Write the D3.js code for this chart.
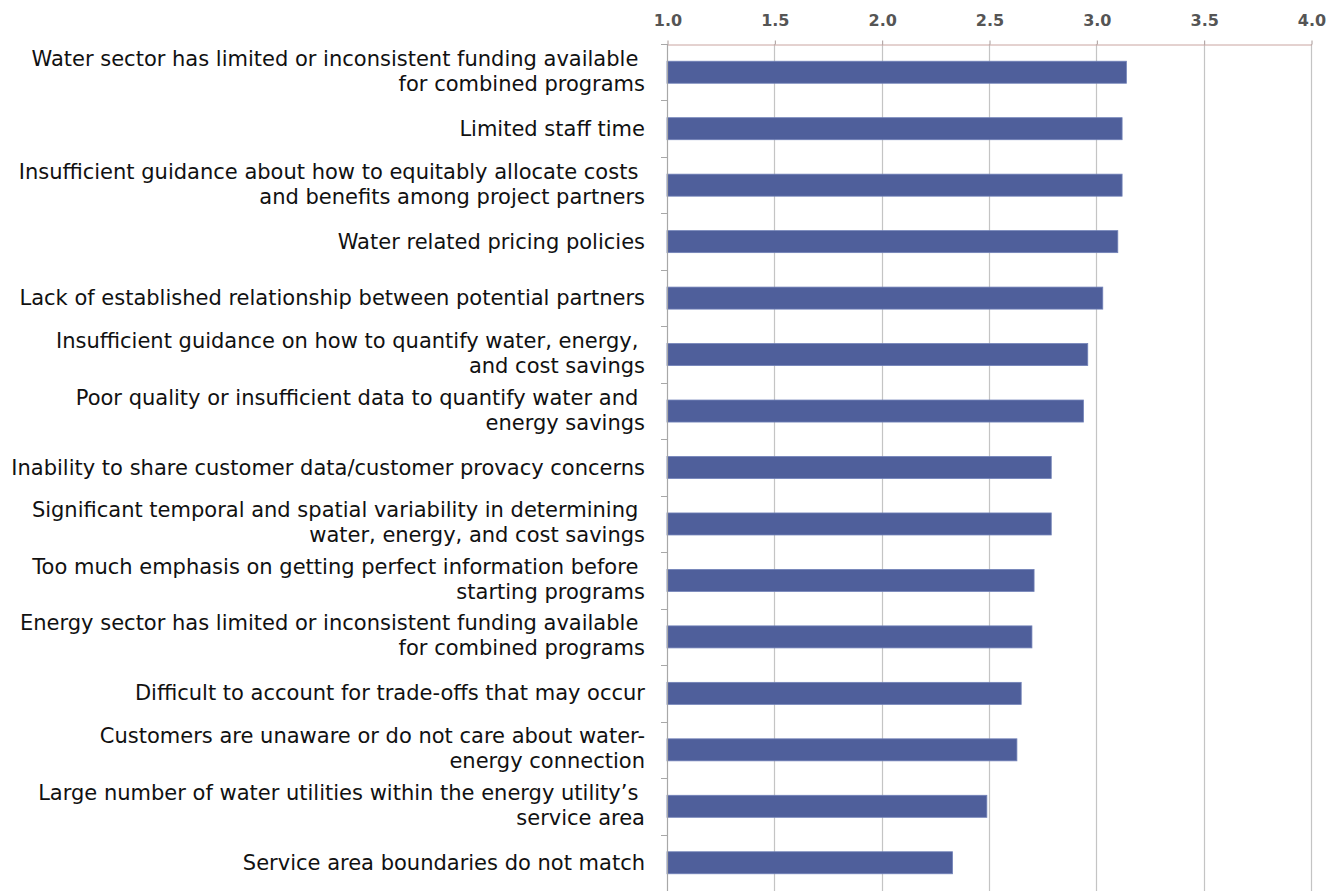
<!DOCTYPE html>
<html>
<head>
<meta charset="utf-8">
<script src="https://cdn.jsdelivr.net/npm/d3@7"></script>
<style>
  body { margin: 0; background: #fff; }
  svg { display: block; }
</style>
</head>
<body>
<script>
let width = 1342;
let height = 891;

// barriers, top to bottom (line breaks as in the original labels)
const categories = [
  'Water sector has limited or inconsistent funding available \nfor combined programs',
  'Limited staff time',
  'Insufficient guidance about how to equitably allocate costs \nand benefits among project partners',
  'Water related pricing policies',
  'Lack of established relationship between potential partners',
  'Insufficient guidance on how to quantify water, energy, \nand cost savings',
  'Poor quality or insufficient data to quantify water and \nenergy savings',
  'Inability to share customer data/customer provacy concerns',
  'Significant temporal and spatial variability in determining \nwater, energy, and cost savings',
  'Too much emphasis on getting perfect information before \nstarting programs',
  'Energy sector has limited or inconsistent funding available \nfor combined programs',
  'Difficult to account for trade-offs that may occur',
  'Customers are unaware or do not care about water-\nenergy connection',
  'Large number of water utilities within the energy utility\u2019s \nservice area',
  'Service area boundaries do not match'
];

const values = [3.14, 3.12, 3.12, 3.10, 3.03, 2.96, 2.94, 2.79, 2.79, 2.71, 2.70, 2.65, 2.63, 2.49, 2.33];

const xTicks = [1.0, 1.5, 2.0, 2.5, 3.0, 3.5, 4.0];

let svg = d3.select('body')
  .append('svg')
  .attr('width', width)
  .attr('height', height);

let x = d3.scaleLinear()
  .domain([1, 4])
  .range([667, 1311]);

let y = d3.scaleBand()
  .domain(categories)
  .range([44, 891])
  .paddingInner(0.61)
  .paddingOuter(0.305);

// vertical gridlines
svg.append('g')
  .selectAll('line')
  .data(xTicks.slice(1))
  .join('line')
  .attr('x1', d => Math.round(x(d)) + 0.5)
  .attr('x2', d => Math.round(x(d)) + 0.5)
  .attr('y1', 44)
  .attr('y2', height)
  .attr('stroke', '#c4c4c4')
  .attr('stroke-width', 1.2);

// top axis
let xAxis = svg.append('g')
  .attr('transform', 'translate(0.5,44.5)')
  .call(d3.axisTop(x)
    .tickValues(xTicks)
    .tickFormat(d3.format('.1f'))
    .tickSize(4)
    .tickSizeOuter(0)
    .tickPadding(15));

xAxis.select('.domain').attr('stroke', '#c9a4a0');
xAxis.selectAll('.tick line').attr('stroke', '#a89a98');
xAxis.selectAll('.tick text')
  .attr('font-family', 'DejaVu Sans')
  .attr('font-size', 16)
  .attr('font-weight', 'bold')
  .attr('fill', '#555');

// bars
svg.append('g')
  .selectAll('rect')
  .data(values)
  .join('rect')
  .attr('x', x(1))
  .attr('y', (d, i) => y(categories[i]))
  .attr('width', d => x(d) - x(1))
  .attr('height', y.bandwidth())
  .attr('fill', '#4f5f9b')
  .attr('stroke', '#7282b8')
  .attr('stroke-width', 0.8);

// left axis with ticks between categories
let step = y.step();
let bounds = d3.range(categories.length + 1).map(i => 44 + i * step);

svg.append('line')
  .attr('x1', x(1) + 0.5)
  .attr('x2', x(1) + 0.5)
  .attr('y1', 44)
  .attr('y2', height)
  .attr('stroke', '#a8a8a8')
  .attr('stroke-width', 1.2);

svg.append('g')
  .selectAll('line')
  .data(bounds)
  .join('line')
  .attr('x1', x(1) - 6)
  .attr('x2', x(1))
  .attr('y1', d => Math.round(d) + 0.5)
  .attr('y2', d => Math.round(d) + 0.5)
  .attr('stroke', '#a8a8a8');

// category labels
let labels = svg.append('g')
  .selectAll('text')
  .data(categories)
  .join('text')
  .attr('text-anchor', 'end')
  .attr('font-family', 'DejaVu Sans')
  .attr('font-size', 21)
  .attr('fill', '#111')
  .style('white-space', 'pre');

labels.each(function (d) {
  let lines = d.split('\n');
  let cy = y(d) + y.bandwidth() / 2;
  let lh = 25;
  let t = d3.select(this);
  lines.forEach((ln, j) => {
    t.append('tspan')
      .attr('x', 645)
      .attr('y', cy + 7 + (j - (lines.length - 1) / 2) * lh - (lines.length > 1 ? 1 : 0))
      .text(ln);
  });
});
</script>
</body>
</html>
